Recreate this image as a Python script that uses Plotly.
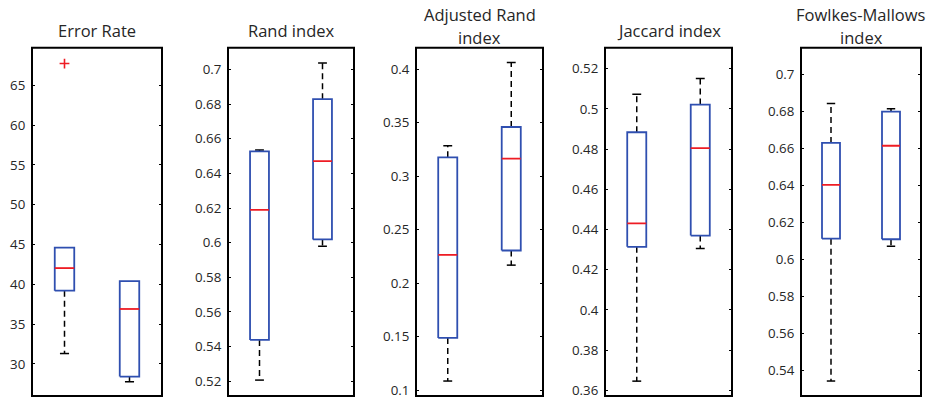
import plotly.graph_objects as go

# ---------------- data ----------------
titles = ["Error Rate", "Rand index", "Adjusted Rand<br>index", "Jaccard index", "Fowlkes-Mallows<br>index"]
groups = [1, 2]

lower_whisker = [[31.3, 27.75], [0.5206, 0.598], [0.1084, 0.2168], [0.3646, 0.4306], [0.5345, 0.6073]]
q1 = [[39.2, 28.4], [0.5438, 0.6019], [0.1487, 0.2305], [0.4314, 0.437], [0.6114, 0.6111]]
median = [[42.04, 36.9], [0.619, 0.6471], [0.2264, 0.3164], [0.4431, 0.4805], [0.6405, 0.6616]]
q3 = [[44.6, 40.4], [0.6528, 0.6829], [0.3176, 0.346], [0.4884, 0.5022], [0.6631, 0.68]]
upper_whisker = [[44.6, 40.4], [0.6535, 0.7038], [0.3285, 0.4062], [0.5073, 0.5151], [0.6844, 0.6816]]

outlier_panel = [0]
outlier_x = [1]
outlier_y = [67.75]

y_ranges = [[25.96, 69.75], [0.5114, 0.7127], [0.0944, 0.4202], [0.3572, 0.5305], [0.5264, 0.7146]]
tick_vals = [
    [30, 35, 40, 45, 50, 55, 60, 65],
    [0.52, 0.54, 0.56, 0.58, 0.6, 0.62, 0.64, 0.66, 0.68, 0.7],
    [0.1, 0.15, 0.2, 0.25, 0.3, 0.35, 0.4],
    [0.36, 0.38, 0.4, 0.42, 0.44, 0.46, 0.48, 0.5, 0.52],
    [0.54, 0.56, 0.58, 0.6, 0.62, 0.64, 0.66, 0.68, 0.7],
]
tick_text = [
    ["30", "35", "40", "45", "50", "55", "60", "65"],
    ["0.52", "0.54", "0.56", "0.58", "0.6", "0.62", "0.64", "0.66", "0.68", "0.7"],
    ["0.1", "0.15", "0.2", "0.25", "0.3", "0.35", "0.4"],
    ["0.36", "0.38", "0.4", "0.42", "0.44", "0.46", "0.48", "0.5", "0.52"],
    ["0.54", "0.56", "0.58", "0.6", "0.62", "0.64", "0.66", "0.68", "0.7"],
]

# ---------------- layout / style ----------------
W, H = 933, 401
x_px = [(32, 162), (228, 354), (416, 543), (605, 732), (801, 921)]
y_top_px, y_bot_px = 48, 399
BOX_HALF = 0.15
CAP_HALF = 0.07
BLUE = "#2f4fb0"
RED = "#ee1c24"
FONT = "Open Sans"
TXT = "#262626"

fig = go.Figure()

layout = dict(
    width=W, height=H, margin=dict(l=0, r=0, t=0, b=0),
    paper_bgcolor="white", plot_bgcolor="white", showlegend=False,
    font=dict(family=FONT, color=TXT),
)

ydom = [1 - y_bot_px / H, 1 - y_top_px / H]
shapes = []

for i in range(5):
    xa = "x" if i == 0 else f"x{i+1}"
    ya = "y" if i == 0 else f"y{i+1}"
    xk = "xaxis" if i == 0 else f"xaxis{i+1}"
    yk = "yaxis" if i == 0 else f"yaxis{i+1}"
    l, r = x_px[i]
    layout[xk] = dict(
        domain=[l / W, r / W], range=[0.5, 2.5], anchor=ya,
        showticklabels=False, ticks="", showgrid=False, zeroline=False,
        showline=False,
    )
    layout[yk] = dict(
        domain=ydom, range=y_ranges[i], anchor=xa,
        tickvals=tick_vals[i], ticktext=tick_text[i],
        ticks="inside", ticklen=3, tickwidth=1.2, tickcolor="black",
        showgrid=False, zeroline=False,
        showline=True, mirror="ticks", linecolor="black", linewidth=1,
        tickfont=dict(family=FONT, size=13.3, color=TXT),
        ticklabelstandoff=3, ticklabeloverflow="allow",
    )
    shapes.append(dict(type="rect", xref=f"{xa} domain", yref=f"{ya} domain",
                       x0=0, x1=1, y0=0, y1=1, line=dict(color="black", width=2),
                       fillcolor="rgba(0,0,0,0)", layer="above"))

    bx, by = [], []
    mx, my = [], []
    wx, wy = [], []
    cx, cy = [], []
    for j, g in enumerate(groups):
        a, b = g - BOX_HALF, g + BOX_HALF
        bx += [a, b, b, a, a, None]
        by += [q1[i][j], q1[i][j], q3[i][j], q3[i][j], q1[i][j], None]
        mx += [a, b, None]
        my += [median[i][j], median[i][j], None]
        if upper_whisker[i][j] > q3[i][j]:
            wx += [g, g, None]
            wy += [q3[i][j], upper_whisker[i][j], None]
            cx += [g - CAP_HALF, g + CAP_HALF, None]
            cy += [upper_whisker[i][j], upper_whisker[i][j], None]
        if lower_whisker[i][j] < q1[i][j]:
            wx += [g, g, None]
            wy += [q1[i][j], lower_whisker[i][j], None]
            cx += [g - CAP_HALF, g + CAP_HALF, None]
            cy += [lower_whisker[i][j], lower_whisker[i][j], None]

    fig.add_trace(go.Scatter(x=wx, y=wy, mode="lines", xaxis=xa, yaxis=ya,
                             line=dict(color="black", width=1.5, dash="6px,4px"), hoverinfo="skip"))
    fig.add_trace(go.Scatter(x=cx, y=cy, mode="lines", xaxis=xa, yaxis=ya,
                             line=dict(color="black", width=1.5), hoverinfo="skip"))
    fig.add_trace(go.Scatter(x=bx, y=by, mode="lines", xaxis=xa, yaxis=ya,
                             line=dict(color=BLUE, width=1.8), hoverinfo="skip"))
    fig.add_trace(go.Scatter(x=mx, y=my, mode="lines", xaxis=xa, yaxis=ya,
                             line=dict(color=RED, width=1.8), hoverinfo="skip"))

    ox = [outlier_x[k] for k in range(len(outlier_x)) if outlier_panel[k] == i]
    oy = [outlier_y[k] for k in range(len(outlier_y)) if outlier_panel[k] == i]
    if ox:
        fig.add_trace(go.Scatter(x=ox, y=oy, mode="markers", xaxis=xa, yaxis=ya,
                                 marker=dict(symbol="cross-thin", size=7, color=RED,
                                             line=dict(color=RED, width=1.6)),
                                 hoverinfo="skip"))

# titles
annotations = []
for i, t in enumerate(titles):
    l, r = x_px[i]
    cxp = (l + r) / 2 / W
    lines = t.split("<br>")
    if len(lines) == 1:
        centers = [31]
    else:
        centers = [14.5, 37.5]
    for line, cyp in zip(lines, centers):
        annotations.append(dict(
            text=line, x=cxp, y=1 - cyp / H, xref="paper", yref="paper",
            xanchor="center", yanchor="middle", showarrow=False,
            font=dict(family=FONT, size=16.5, color=TXT),
        ))
layout["annotations"] = annotations
layout["shapes"] = shapes

fig.update_layout(**layout)
fig.write_html("out.html", config={"displayModeBar": False},
               post_script="document.body.style.margin='0';document.body.style.overflow='hidden';")
